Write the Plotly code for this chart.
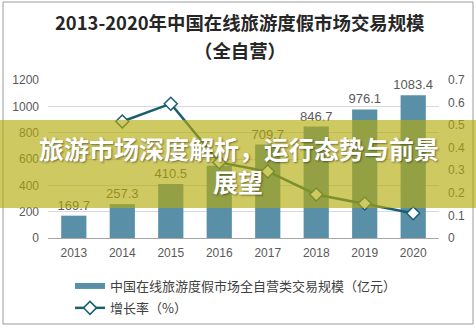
import plotly.graph_objects as go

years = ["2013", "2014", "2015", "2016", "2017", "2018", "2019", "2020"]
volume = [169.7, 257.3, 410.5, 548.0, 709.7, 846.7, 976.1, 1083.4]
volume_labels = ["169.7", "257.3", "410.5", "", "709.7", "846.7", "976.1", "1083.4"]
growth = [None, 0.516, 0.595, 0.335, 0.295, 0.193, 0.153, 0.11]
left_ticks = [0, 200, 400, 600, 800, 1000, 1200]
right_ticks = [0, 0.1, 0.2, 0.3, 0.4, 0.5, 0.6, 0.7]

FONT = "Liberation Sans, Arial, Noto Sans CJK SC, sans-serif"
CJK = "Noto Sans CJK SC, Liberation Sans, sans-serif"
GRAY = "#595959"
BAR = "#5a8fa8"
LINE = "#1b5e72"

W, H = 476, 329
L, R, T, B = 48, 37, 80, 91
pw, ph = W - L - R, H - T - B


def px(x):
    return (x - L) / pw


def py(y):
    return (H - B - y) / ph


fig = go.Figure()
fig.add_trace(go.Bar(
    x=years, y=volume, text=volume_labels, textposition="outside",
    constraintext="none",
    textfont=dict(size=13, color=GRAY, family=FONT),
    marker=dict(color=BAR, line=dict(width=0)),
    showlegend=False, cliponaxis=False,
))
# legend-only entry for the bars (wide thin swatch as in the reference)
fig.add_trace(go.Scatter(
    x=[None], y=[None], mode="lines",
    line=dict(color=BAR, width=6),
    name="中国在线旅游度假市场全自营类交易规模（亿元）", legendgroup="a",
))
fig.add_trace(go.Scatter(
    x=years, y=growth, yaxis="y2", mode="lines+markers",
    line=dict(color=LINE, width=2.5),
    marker=dict(symbol="diamond", size=10, color="white",
                line=dict(color=LINE, width=1.5)),
    name="增长率（%）", legendgroup="b", cliponaxis=False,
))

fig.update_layout(
    width=W, height=H,
    margin=dict(l=L, r=R, t=T, b=B, autoexpand=False),
    paper_bgcolor="white", plot_bgcolor="white",
    bargap=0.48,
    font=dict(family=FONT, color=GRAY, size=12),
    xaxis=dict(showgrid=False, showline=True, linecolor="#a6a6a6", linewidth=1,
               ticks="", tickfont=dict(size=12, color=GRAY), ticklabelstandoff=4),
    yaxis=dict(range=[0, 1200], tickvals=left_ticks, showgrid=True,
               gridcolor="#d9d9d9", gridwidth=1, zeroline=False,
               tickfont=dict(size=12, color=GRAY), ticklabelstandoff=8),
    yaxis2=dict(range=[0, 0.7], tickvals=right_ticks, overlaying="y", side="right",
                showgrid=False, zeroline=False,
                tickfont=dict(size=12, color=GRAY), ticklabelstandoff=8),
    showlegend=True,
    legend=dict(x=px(70), y=py(271), xanchor="left", yanchor="top",
                font=dict(family=CJK, size=13, color="#404040"),
                tracegroupgap=2, itemwidth=30, bgcolor="rgba(0,0,0,0)"),
    shapes=[
        dict(type="rect", xref="paper", yref="paper",
             x0=px(3), x1=px(473), y0=py(324), y1=py(2),
             line=dict(color="#9a9a9a", width=1), fillcolor="rgba(0,0,0,0)", layer="below"),
        dict(type="rect", xref="paper", yref="paper",
             x0=px(-2), x1=px(W + 2), y0=py(208), y1=py(120),
             line=dict(width=0), fillcolor="rgba(180,171,10,0.64)", layer="above"),
    ],
    annotations=[
        dict(text="<b>2013-2020年中国在线旅游度假市场交易规模</b>", xref="paper", yref="paper",
             x=px(240), y=py(22), showarrow=False, xanchor="center", yanchor="middle",
             font=dict(family=CJK, size=18.4, color="#262626")),
        dict(text="<b>（全自营）</b>", xref="paper", yref="paper",
             x=px(240), y=py(50), showarrow=False, xanchor="center", yanchor="middle",
             font=dict(family=CJK, size=18.4, color="#262626")),
        dict(text="<b>旅游市场深度解析，运行态势与前景</b>", xref="paper", yref="paper",
             x=px(37), y=py(148), showarrow=False, xanchor="left", yanchor="middle",
             font=dict(family=CJK, size=25, color="white",
                       shadow="1px 1px 2px rgba(0,0,0,0.45)")),
        dict(text="<b>展望</b>", xref="paper", yref="paper",
             x=px(238), y=py(181), showarrow=False, xanchor="center", yanchor="middle",
             font=dict(family=CJK, size=25, color="white",
                       shadow="1px 1px 2px rgba(0,0,0,0.45)")),
    ],
)

fig.write_html("out.html")
